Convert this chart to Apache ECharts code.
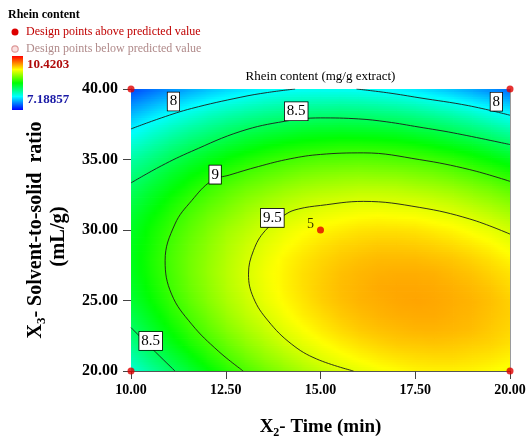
<!DOCTYPE html>
<html>
<head>
<meta charset="utf-8">
<script src="https://cdn.jsdelivr.net/npm/echarts@6/dist/echarts.min.js"></script>
<style>
  html, body { margin: 0; padding: 0; background: #ffffff; }
  #chart { width: 528px; height: 439px; }
</style>
</head>
<body>
<div id="chart"></div>
<script>
// Axis ticks
const timeTicks = [10, 12.5, 15, 17.5, 20];
const ratioTicks = [20, 25, 30, 35, 40];

// Response grid: X2 time (min) columns, X3 solvent-to-solid ratio (mL/g) rows
const timeNodes = [10, 10.5, 11, 11.5, 12, 12.5, 13, 13.5, 14, 14.5, 15, 15.5, 16, 16.5, 17, 17.5, 18, 18.5, 19, 19.5, 20];
const ratioNodes = [20, 21, 22, 23, 24, 25, 26, 27, 28, 29, 30, 31, 32, 33, 34, 35, 36, 37, 38, 39, 40];
const rheinGrid = [
  [8.12, 8.30, 8.47, 8.62, 8.77, 8.91, 9.03, 9.14, 9.24, 9.33, 9.41, 9.48, 9.53, 9.58, 9.61, 9.64, 9.65, 9.65, 9.64, 9.61, 9.58], // 20
  [8.26, 8.44, 8.60, 8.75, 8.90, 9.03, 9.15, 9.26, 9.35, 9.44, 9.52, 9.58, 9.63, 9.67, 9.70, 9.72, 9.73, 9.73, 9.71, 9.69, 9.65], // 21
  [8.38, 8.55, 8.72, 8.87, 9.00, 9.13, 9.25, 9.35, 9.45, 9.53, 9.60, 9.66, 9.71, 9.75, 9.78, 9.79, 9.80, 9.79, 9.77, 9.75, 9.71], // 22
  [8.48, 8.65, 8.81, 8.96, 9.09, 9.22, 9.33, 9.43, 9.52, 9.60, 9.67, 9.73, 9.78, 9.81, 9.83, 9.85, 9.85, 9.84, 9.82, 9.78, 9.74], // 23
  [8.57, 8.73, 8.89, 9.03, 9.16, 9.29, 9.40, 9.49, 9.58, 9.66, 9.72, 9.78, 9.82, 9.85, 9.87, 9.88, 9.88, 9.86, 9.84, 9.80, 9.76], // 24
  [8.64, 8.80, 8.95, 9.09, 9.22, 9.34, 9.44, 9.54, 9.62, 9.69, 9.76, 9.81, 9.85, 9.87, 9.89, 9.90, 9.89, 9.87, 9.85, 9.81, 9.76], // 25
  [8.68, 8.84, 8.99, 9.13, 9.25, 9.37, 9.47, 9.56, 9.64, 9.71, 9.77, 9.82, 9.85, 9.88, 9.89, 9.89, 9.88, 9.86, 9.83, 9.79, 9.73], // 26
  [8.71, 8.87, 9.01, 9.15, 9.27, 9.38, 9.48, 9.57, 9.64, 9.71, 9.76, 9.81, 9.84, 9.86, 9.87, 9.87, 9.86, 9.83, 9.80, 9.75, 9.70], // 27
  [8.72, 8.88, 9.02, 9.15, 9.26, 9.37, 9.47, 9.55, 9.63, 9.69, 9.74, 9.78, 9.81, 9.83, 9.83, 9.83, 9.81, 9.79, 9.75, 9.70, 9.64], // 28
  [8.72, 8.86, 9.00, 9.13, 9.24, 9.35, 9.44, 9.52, 9.59, 9.65, 9.70, 9.74, 9.76, 9.78, 9.78, 9.77, 9.75, 9.72, 9.68, 9.63, 9.56], // 29
  [8.69, 8.84, 8.97, 9.09, 9.20, 9.31, 9.39, 9.47, 9.54, 9.60, 9.64, 9.67, 9.70, 9.71, 9.71, 9.70, 9.67, 9.64, 9.59, 9.54, 9.47], // 30
  [8.65, 8.79, 8.92, 9.04, 9.15, 9.24, 9.33, 9.41, 9.47, 9.52, 9.56, 9.59, 9.61, 9.62, 9.61, 9.60, 9.57, 9.54, 9.49, 9.43, 9.36], // 31
  [8.58, 8.72, 8.85, 8.97, 9.07, 9.16, 9.25, 9.32, 9.38, 9.43, 9.47, 9.49, 9.51, 9.51, 9.50, 9.49, 9.46, 9.42, 9.36, 9.30, 9.23], // 32
  [8.50, 8.64, 8.76, 8.87, 8.98, 9.07, 9.15, 9.21, 9.27, 9.32, 9.35, 9.37, 9.39, 9.39, 9.38, 9.35, 9.32, 9.28, 9.22, 9.16, 9.08], // 33
  [8.40, 8.53, 8.66, 8.77, 8.86, 8.95, 9.03, 9.09, 9.14, 9.19, 9.22, 9.24, 9.25, 9.24, 9.23, 9.20, 9.17, 9.12, 9.06, 8.99, 8.91], // 34
  [8.29, 8.41, 8.53, 8.64, 8.73, 8.82, 8.89, 8.95, 9.00, 9.04, 9.07, 9.08, 9.09, 9.08, 9.06, 9.04, 9.00, 8.95, 8.88, 8.81, 8.73], // 35
  [8.15, 8.27, 8.39, 8.49, 8.58, 8.66, 8.73, 8.79, 8.84, 8.87, 8.89, 8.91, 8.91, 8.90, 8.88, 8.85, 8.80, 8.75, 8.69, 8.61, 8.52], // 36
  [7.99, 8.12, 8.23, 8.33, 8.41, 8.49, 8.56, 8.61, 8.65, 8.69, 8.71, 8.72, 8.71, 8.70, 8.68, 8.64, 8.60, 8.54, 8.47, 8.39, 8.30], // 37
  [7.82, 7.94, 8.05, 8.14, 8.23, 8.30, 8.36, 8.41, 8.45, 8.48, 8.50, 8.51, 8.50, 8.48, 8.46, 8.42, 8.37, 8.31, 8.24, 8.15, 8.06], // 38
  [7.63, 7.74, 7.85, 7.94, 8.02, 8.09, 8.15, 8.20, 8.24, 8.26, 8.27, 8.28, 8.27, 8.25, 8.22, 8.18, 8.12, 8.06, 7.98, 7.90, 7.80], // 39
  [7.42, 7.53, 7.63, 7.72, 7.80, 7.87, 7.92, 7.97, 8.00, 8.02, 8.03, 8.03, 8.02, 7.99, 7.96, 7.92, 7.86, 7.79, 7.71, 7.62, 7.52]  // 40
];
const rheinMin = 7.18857;
const rheinMax = 10.4203;

// Contour lines [time, ratio]
const contourLevels = [8, 8, 8.5, 8.5, 9, 9.5];
const contour80Left = [[10, 37.17], [10.8, 37.95], [11.6, 38.62], [12.9, 39.42], [13.6, 39.75], [14.33, 40]];
const contour80Right = [[15.95, 40], [16.8, 39.72], [17.6, 39.38], [18.9, 38.82], [20, 38.14]];
const contour85Top = [[10, 33.34], [10.8, 34.55], [11.6, 35.58], [12.9, 37.0], [14.06, 37.71], [15, 37.95], [16, 37.88], [16.75, 37.67], [17.6, 37.3], [18.5, 36.89], [20, 36.06]];
const contour85Corner = [[10, 23.08], [10.55, 21.6], [11.16, 20]];
const contour90 = [[20, 33.45], [18.94, 34.28], [17.62, 34.99], [16.13, 35.47], [15, 35.36], [14.2, 35.05], [13.36, 34.5], [12.6, 33.9], [12.13, 33.5], [11.6, 32.08], [11.16, 30.42], [10.9, 27.82], [11.07, 25.45], [11.6, 23.32], [12.3, 21.42], [12.96, 20]];
const contour95 = [[20, 29.71], [18.94, 30.78], [17.62, 31.6], [16.13, 32.03], [15, 31.74], [14.42, 31.49], [14.09, 31.13], [13.54, 29.95], [13.23, 28.53], [13.1, 26.87], [13.23, 25.2], [13.62, 23.55], [14.24, 21.9], [14.9, 20.85], [15.87, 20]];
const contourLines = [contour80Left, contour80Right, contour85Top, contour85Corner, contour90, contour95];

// Contour level tags
const levelTagAt = [[11.12, 39.11], [19.64, 39.1], [14.36, 38.42], [10.52, 22.13], [12.22, 33.93], [13.73, 30.86]];
const levelTagValue = [8, 8, 8.5, 8.5, 9, 9.5];

// Design points (all above predicted value); replicate count at the centre
const designAbove = [[10, 40], [20, 40], [10, 20], [20, 20], [15, 30]];
const designReplicates = ['', '', '', '', '5'];

const SERIF = "'Liberation Serif', 'Times New Roman', serif";

// Blue -> cyan -> green -> yellow -> red colour ramp
const ramp = [[0, 0, 255], [0, 255, 255], [0, 255, 0], [255, 255, 0], [255, 0, 0]];
function rampColor(v) {
  let f = (v - rheinMin) / (rheinMax - rheinMin);
  f = Math.max(0, Math.min(1, f));
  const s = f * (ramp.length - 1);
  const i = Math.min(ramp.length - 2, Math.floor(s));
  const t = s - i;
  const a = ramp[i], b = ramp[i + 1];
  return 'rgb(' + Math.round(a[0] + (b[0] - a[0]) * t) + ',' +
    Math.round(a[1] + (b[1] - a[1]) * t) + ',' +
    Math.round(a[2] + (b[2] - a[2]) * t) + ')';
}

const nx = timeNodes.length, ny = ratioNodes.length;
const surfaceData = [];
for (let j = 0; j < ny; j++) {
  for (let i = 0; i < nx; i++) {
    surfaceData.push([timeNodes[i], ratioNodes[j], rheinGrid[j][i]]);
  }
}

// Each grid cell is painted as thin strips shaded between its corner values
function renderCell(params, api) {
  const idx = params.dataIndex;
  const i = idx % nx, j = Math.floor(idx / nx);
  if (i === nx - 1 || j === ny - 1) return null;
  const pA = api.coord([timeNodes[i], ratioNodes[j]]);
  const pB = api.coord([timeNodes[i + 1], ratioNodes[j + 1]]);
  const v00 = rheinGrid[j][i], v10 = rheinGrid[j][i + 1];
  const v01 = rheinGrid[j + 1][i], v11 = rheinGrid[j + 1][i + 1];
  const w = pB[0] - pA[0], h = pA[1] - pB[1];
  const strips = 6;
  const children = [];
  for (let k = 0; k < strips; k++) {
    const t = (k + 0.5) / strips;
    const left = v00 + (v01 - v00) * t;
    const right = v10 + (v11 - v10) * t;
    const stops = [0, 0.25, 0.5, 0.75, 1].map(o => ({ offset: o, color: rampColor(left + (right - left) * o) }));
    children.push({
      type: 'rect',
      shape: { x: pA[0], y: pA[1] - h * (k + 1) / strips, width: w + 0.8, height: h / strips + 0.8 },
      style: { fill: new echarts.graphic.LinearGradient(0, 0, 1, 0, stops) }
    });
  }
  return { type: 'group', children: children };
}

// Boxed level tag sitting on its contour
function renderTag(params, api) {
  const p = api.coord([api.value(0), api.value(1)]);
  return {
    type: 'text',
    x: p[0], y: p[1],
    style: {
      text: String(levelTagValue[params.dataIndex]),
      font: '15px ' + SERIF,
      fill: '#000',
      align: 'center',
      verticalAlign: 'middle',
      backgroundColor: '#ffffff',
      borderColor: '#000000',
      borderWidth: 0.8,
      padding: [2, 2, 1, 2]
    }
  };
}

const chart = echarts.init(document.getElementById('chart'), null, { renderer: 'canvas' });

const axisText = { fontFamily: SERIF, fontWeight: 'bold', color: '#000' };

const series = [{
  type: 'custom',
  data: surfaceData,
  encode: { x: 0, y: 1 },
  renderItem: renderCell,
  clip: true,
  silent: true,
  z: 1
}];

contourLines.forEach((pts, n) => {
  series.push({
    type: 'line',
    name: 'level ' + contourLevels[n],
    data: pts,
    smooth: 0.4,
    symbol: 'none',
    clip: true,
    lineStyle: { color: '#1c1c1c', width: 0.9 },
    silent: true,
    z: 3
  });
});

series.push({
  type: 'custom',
  data: levelTagAt,
  encode: { x: 0, y: 1 },
  renderItem: renderTag,
  clip: false,
  silent: true,
  z: 5
});

series.push({
  type: 'scatter',
  data: designAbove,
  symbol: 'circle',
  symbolSize: 7,
  clip: false,
  silent: true,
  z: 6,
  itemStyle: { color: '#e00000' },
  label: {
    show: true,
    position: 'left',
    distance: 3,
    offset: [0, -6],
    formatter: p => designReplicates[p.dataIndex],
    fontFamily: SERIF,
    fontSize: 14,
    color: '#000'
  }
});

const option = {
  backgroundColor: '#ffffff',
  animation: false,
  grid: { left: 131, top: 89, width: 379, height: 282, outerBoundsMode: 'none', containLabel: false, show: false },
  xAxis: [{
    type: 'value', min: timeTicks[0], max: timeTicks[timeTicks.length - 1], interval: timeTicks[1] - timeTicks[0],
    axisLine: { show: true, onZero: false, lineStyle: { color: '#555', width: 1 } },
    axisTick: { show: true, length: 8, lineStyle: { color: '#444' } },
    axisLabel: Object.assign({ fontSize: 14, margin: 12, formatter: v => v.toFixed(2) }, axisText),
    splitLine: { show: false }
  }, {
    type: 'value', position: 'top', min: timeTicks[0], max: timeTicks[timeTicks.length - 1],
    axisLine: { show: true, onZero: false, lineStyle: { color: '#9a9a9a', width: 1 } },
    axisTick: { show: false }, axisLabel: { show: false }, splitLine: { show: false }
  }],
  yAxis: [{
    type: 'value', min: ratioTicks[0], max: ratioTicks[ratioTicks.length - 1], interval: ratioTicks[1] - ratioTicks[0],
    axisLine: { show: true, onZero: false, lineStyle: { color: '#555', width: 1 } },
    axisTick: { show: true, length: 8, lineStyle: { color: '#444' } },
    axisLabel: Object.assign({ fontSize: 16, margin: 13, formatter: v => v.toFixed(2) }, axisText),
    splitLine: { show: false }
  }, {
    type: 'value', position: 'right', min: ratioTicks[0], max: ratioTicks[ratioTicks.length - 1],
    axisLine: { show: true, onZero: false, lineStyle: { color: '#9a9a9a', width: 1 } },
    axisTick: { show: false }, axisLabel: { show: false }, splitLine: { show: false }
  }],
  graphic: [
    // chart heading
    { type: 'text', x: 320.5, y: 77, z: 10, style: { text: 'Rhein content (mg/g extract)', font: '13px ' + SERIF, fill: '#000', align: 'center', verticalAlign: 'middle' } },
    // legend block
    { type: 'text', x: 8, y: 15, z: 10, style: { text: 'Rhein content', font: 'bold 12px ' + SERIF, fill: '#000', verticalAlign: 'middle' } },
    { type: 'circle', shape: { cx: 15, cy: 32, r: 3.5 }, z: 10, style: { fill: '#dd0000' } },
    { type: 'text', x: 26, y: 32, z: 10, style: { text: 'Design points above predicted value', font: '12px ' + SERIF, fill: '#c00000', verticalAlign: 'middle' } },
    { type: 'circle', shape: { cx: 15, cy: 49, r: 3.2 }, z: 10, style: { fill: '#fbe0e0', stroke: '#dd9a9a', lineWidth: 1.2 } },
    { type: 'text', x: 26, y: 49, z: 10, style: { text: 'Design points below predicted value', font: '12px ' + SERIF, fill: '#b08a8a', verticalAlign: 'middle' } },
    { type: 'rect', shape: { x: 12, y: 56, width: 11, height: 54 }, z: 10, style: { fill: new echarts.graphic.LinearGradient(0, 0, 0, 1, [
      { offset: 0, color: 'rgb(255,0,0)' }, { offset: 0.25, color: 'rgb(255,255,0)' }, { offset: 0.5, color: 'rgb(0,255,0)' },
      { offset: 0.75, color: 'rgb(0,255,255)' }, { offset: 1, color: 'rgb(0,0,255)' }]) } },
    { type: 'text', x: 27, y: 65, z: 10, style: { text: String(rheinMax), font: 'bold 13px ' + SERIF, fill: '#b00a0a', verticalAlign: 'middle' } },
    { type: 'text', x: 27, y: 100, z: 10, style: { text: String(rheinMin), font: 'bold 13px ' + SERIF, fill: '#1a1aa6', verticalAlign: 'middle' } },
    // axis titles
    { type: 'text', x: 320.5, y: 427, z: 10, style: {
      text: '{b|X}{s|2}{b|- Time (min)}', align: 'center', verticalAlign: 'middle',
      rich: {
        b: { fontFamily: SERIF, fontWeight: 'bold', fontSize: 19, lineHeight: 24, color: '#000' },
        s: { fontFamily: SERIF, fontWeight: 'bold', fontSize: 12, lineHeight: 12, verticalAlign: 'bottom', color: '#000' }
      } } },
    { type: 'text', x: 35.5, y: 230, rotation: Math.PI / 2, z: 10, style: {
      text: '{b|X}{s|3}{b|- Solvent-to-solid  ratio}', align: 'center', verticalAlign: 'middle',
      rich: {
        b: { fontFamily: SERIF, fontWeight: 'bold', fontSize: 20, lineHeight: 25, color: '#000' },
        s: { fontFamily: SERIF, fontWeight: 'bold', fontSize: 13, lineHeight: 13, verticalAlign: 'bottom', color: '#000' }
      } } },
    { type: 'text', x: 59, y: 236.5, rotation: Math.PI / 2, z: 10, style: { text: '(mL/g)', font: 'bold 20.5px ' + SERIF, fill: '#000', align: 'center', verticalAlign: 'middle' } }
  ],
  series: series
};

chart.setOption(option);
</script>
</body>
</html>
